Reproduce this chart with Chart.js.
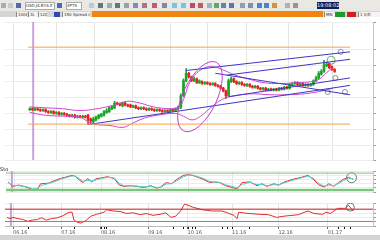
<!DOCTYPE html>
<html>
<head>
<meta charset="utf-8">
<script src="https://cdn.jsdelivr.net/npm/chart.js@4/dist/chart.umd.min.js"></script>
<style>
  body { margin:0; width:380px; height:240px; overflow:hidden; background:#fff; position:relative; font-family:"DejaVu Sans", sans-serif; }
  .abs { position:absolute; }
  #toolbar { left:0; top:0; width:380px; height:11px; background:#e9e8e3; }
  #tabs { left:0; top:11px; width:380px; height:6px; background:#d6d6d6; }
  .ic { position:absolute; top:3px; width:5px; height:5px; opacity:0.85; }
  .tab { position:absolute; top:1px; height:5px; background:#f4f4f4; border-left:1px solid #888; font-size:4px; line-height:5px; color:#333; padding-left:1px; white-space:nowrap; overflow:hidden; }
  canvas { position:absolute; left:0; }
  #bottombar { left:0; top:235px; width:380px; height:5px; background:#d4d4d4; }
  .lbl { position:absolute; font-size:5px; line-height:5px; color:#222; }
</style>
</head>
<body>
<div id="toolbar" class="abs">
  <div class="ic" style="left:1px;background:#9aa3b0"></div>
  <div class="ic" style="left:8px;background:#c4c4c4"></div>
  <div class="ic" style="left:16px;background:#3555a8"></div>
  <div class="abs" style="left:25px;top:2px;width:28px;height:6px;background:#fff;border:1px solid #aaa;font-size:4px;line-height:6px;color:#333;white-space:nowrap;overflow:hidden;">USD.JA.BY.S.E</div>
  <div class="ic" style="left:57px;background:#3050c0"></div>
  <div class="abs" style="left:66px;top:2px;width:14px;height:6px;background:#fff;border:1px solid #aaa;font-size:4px;line-height:6px;color:#333;">4P7S</div>
  <div class="ic" style="left:89px;background:#b0c4d8"></div>
  <div class="ic" style="left:98px;background:#506070"></div>
  <div class="ic" style="left:107px;background:#8fa0b0"></div>
  <div class="ic" style="left:115px;background:#4a6080"></div>
  <div class="ic" style="left:124px;background:#9090a0"></div>
  <div class="ic" style="left:133px;background:#6080c0"></div>
  <div class="ic" style="left:142px;background:#a06070"></div>
  <div class="ic" style="left:152px;background:#c04060"></div>
  <div class="ic" style="left:162px;background:#707890"></div>
  <div class="ic" style="left:172px;background:#60c0e0"></div>
  <div class="ic" style="left:181px;background:#60c0e0"></div>
  <div class="ic" style="left:190px;background:#b03050"></div>
  <div class="ic" style="left:198px;background:#c04040"></div>
  <div class="ic" style="left:207px;background:#90a8c0"></div>
  <div class="ic" style="left:214px;background:#40a050"></div>
  <div class="ic" style="left:221px;background:#5070a0"></div>
  <div class="ic" style="left:229px;background:#4060b0"></div>
  <div class="ic" style="left:240px;background:#8090a0"></div>
  <div class="ic" style="left:248px;background:#7080a0"></div>
  <div class="ic" style="left:257px;background:#3070d0"></div>
  <div class="ic" style="left:264px;background:#3070d0"></div>
  <div class="ic" style="left:272px;background:#d08020"></div>
  <div class="ic" style="left:285px;background:#a0a8b0"></div>
  <div class="ic" style="left:293px;background:#808890"></div>
  <div class="abs" style="left:317px;top:2px;width:22px;height:7px;background:#0f1f5c;color:#fff;font-size:5px;line-height:7px;text-align:center;">19:08:02</div>
</div>
<div id="tabs" class="abs">
  <div class="tab" style="left:16px;width:9px">1006</div>
  <div class="tab" style="left:28px;width:8px">3L</div>
  <div class="tab" style="left:38px;width:7px">120</div>
  <div class="abs" style="left:54px;top:1px;width:6px;height:5px;background:#3048b0"></div>
  <div class="tab" style="left:62px;width:26px">150 Spread mpr</div>
  <div class="abs" style="left:92px;top:0;width:231px;height:6px;background:#f08512"></div>
  <div class="tab" style="left:324px;width:9px">MN</div>
  <div class="abs" style="left:335px;top:1px;width:10px;height:5px;background:#1e9a2a"></div>
  <div class="abs" style="left:347px;top:1px;width:9px;height:5px;background:#d02020"></div>
  <div class="tab" style="left:358px;width:20px">1 X/E</div>
</div>

<canvas id="mainChart" width="380" height="148" style="top:17px"></canvas>
<canvas id="stoChart" width="380" height="33" style="top:165px"></canvas>
<canvas id="oscChart" width="380" height="37" style="top:198px"></canvas>
<div class="lbl" style="left:0;top:167px">Sto</div>
<div id="bottombar" class="abs"></div>

<script>
// ---- data: one candle per index ----
const opens = [89,90,89,90,89,88,89,87,86,87,85,86,84,85,84,83,82,83,81,82,81,82,83,79,76,78,80,82,83,86,
  87,90,91,96,95,93,96,94,94,92,93,91,90,91,90,89,90,89,88,89,88,87,88,87,89,88,90,92,104,120,
  128,124,120,122,118,119,117,118,117,116,117,115,114,112,109,104,119,122,119,117,118,116,115,116,114,113,114,112,111,112,
  110,111,110,111,110,112,111,113,112,116,117,118,116,117,115,116,115,116,120,123,127,130,136,138,135,132];
const closes = [90,89,90,89,88,89,87,86,87,85,86,84,85,84,83,82,83,81,82,81,82,81,78,77,79,81,83,84,87,88,
  91,92,96,95,94,96,94,93,92,93,91,90,91,90,89,90,89,88,89,88,87,88,87,89,88,90,92,104,120,128,
  124,120,122,118,120,117,118,117,116,117,115,114,112,109,104,120,122,119,117,118,116,115,116,114,113,114,112,111,112,110,
  111,110,111,110,112,111,113,112,116,117,118,116,117,115,116,115,116,120,123,128,130,137,138,134,132,130];
const highs = [91,91,91,91,90,90,90,88,88,88,87,87,86,86,85,84,84,84,83,83,83,83,84,80,81,82,84,85,88,90,
  92,93,98,97,96,97,97,95,95,94,94,92,92,92,91,91,91,90,90,90,89,89,89,90,90,91,93,106,122,133,
  129,125,124,123,121,120,119,119,118,118,118,116,115,113,110,122,124,123,120,119,119,117,117,117,115,115,115,113,113,113,
  112,112,112,112,113,113,114,114,117,118,119,119,118,118,117,117,117,121,125,130,132,142,140,139,136,133];
const lows = [88,88,88,88,87,87,86,85,85,84,84,83,83,83,82,81,81,80,80,80,80,80,73,74,75,77,79,81,82,85,
  86,89,90,94,93,92,93,92,91,91,90,89,89,89,88,88,88,87,87,87,86,86,86,86,87,87,89,90,103,119,
  123,119,119,117,117,116,116,116,115,115,114,113,111,108,101,103,118,118,116,116,115,114,114,113,112,112,111,110,110,109,
  109,109,109,109,109,110,110,111,111,115,116,115,115,114,114,114,114,115,119,122,126,129,135,133,131,129];

// bollinger-style envelope [index, value]
const upperBand = [[0,92],[5.9,91],[12.4,90],[18.9,88],[25.4,90],[32.0,94],[36.8,98],[41.7,96],[46.6,92],[53.1,90],
  [56.4,92],[58.0,100],[60.3,118],[62.9,128],[66.1,134],[69.4,135],[72.6,132],[77.5,126],[82.4,122],[88.0,118],
  [94.5,117],[101.0,118],[106.2,119],[109.4,122],[111.7,128],[114.3,134]];
const lowerBand = [[0,86],[5.9,83],[12.4,82],[18.9,81],[22.1,76],[25.4,73],[30.3,72],[35.2,70],[38.4,74],[43.3,80],
  [48.2,83],[54.7,85],[58.0,82],[61.2,78],[64.5,82],[67.8,90],[72.6,100],[77.5,104],[84.0,106],[90.5,105],
  [97.1,105],[103.6,106],[108.4,108],[111.7,110],[114.3,112]];

// drawn trend lines [start, end]
const trendLines = [
  [[59.0,131],[120.8,151]],
  [[74.3,126],[120.8,143]],
  [[70.0,128],[120.8,105]],
  [[75.2,103],[120.8,123]],
  [[22.1,73],[120.8,115]]
];
const hLevels = [156, 73.5];
const markers = [[117.3,151],[115.3,123],[112.4,108],[118.9,108]];
const topMarker = [[113.7,142]];
const ellipseAt = [64.2, 103];

// stochastic panel
const stoK = [[0,48],[1.6,27],[3.6,33],[5.9,24],[8.1,12],[9.8,15],[10.8,39],[13.4,42],[15.6,55],[17.3,64],
  [18.9,70],[21.2,79],[22.1,76],[23.8,55],[24.8,45],[26.4,64],[27.7,48],[29.3,64],[31.0,67],[32.9,73],
  [35.2,64],[36.8,33],[38.4,27],[40.7,30],[42.7,27],[45.0,21],[47.2,30],[49.2,18],[50.5,24],[52.4,45],
  [54.1,39],[55.7,58],[58.0,79],[59.6,82],[61.2,79],[64.5,61],[66.8,45],[68.4,48],[70.0,45],[72.0,30],
  [75.9,15],[77.5,45],[80.1,48],[82.4,30],[84.0,39],[85.7,27],[88.0,39],[89.6,33],[91.5,48],[94.5,61],
  [97.1,70],[99.3,79],[101.0,61],[102.9,33],[104.6,24],[106.2,39],[107.8,27],[109.4,45],[111.1,61],[112.7,70],[114.3,61]];
const stoD = [[0,45],[1.6,32],[3.6,30],[5.9,26],[8.1,16],[9.8,14],[10.8,30],[13.4,40],[15.6,50],[17.3,60],
  [18.9,67],[21.2,76],[22.1,77],[23.8,62],[24.8,50],[26.4,56],[27.7,53],[29.3,58],[31.0,64],[32.9,70],
  [35.2,67],[36.8,42],[38.4,30],[40.7,29],[42.7,28],[45.0,24],[47.2,27],[49.2,22],[50.5,22],[52.4,38],
  [54.1,40],[55.7,52],[58.0,72],[59.6,80],[61.2,80],[64.5,66],[66.8,50],[68.4,47],[70.0,46],[72.0,35],
  [75.9,19],[77.5,36],[80.1,46],[82.4,35],[84.0,36],[85.7,30],[88.0,35],[89.6,34],[91.5,44],[94.5,57],
  [97.1,67],[99.3,76],[101.0,66],[102.9,40],[104.6,28],[106.2,34],[107.8,30],[109.4,40],[111.1,55],[112.7,66],[114.3,63]];
const stoLevels = [90, 10];
const stoMark = [[113.7,68]];

// lower oscillator
const osc = [[0,40],[1.0,34],[2.0,40],[3.6,34],[5.2,30],[6.8,21],[8.5,27],[10.1,30],[11.4,38],[13.0,27],
  [14.7,34],[16.6,38],[18.2,46],[20.5,65],[21.5,65],[22.1,27],[23.1,17],[24.4,12],[26.1,25],[27.7,46],
  [29.6,55],[32.0,65],[32.9,77],[35.2,71],[37.5,68],[39.4,59],[41.7,62],[44.0,53],[45.9,59],[48.2,50],
  [50.5,55],[52.4,62],[54.1,40],[55.7,46],[57.3,71],[58.6,105],[60.3,96],[61.2,90],[64.5,77],[67.8,71],
  [71.0,71],[73.3,59],[74.9,50],[75.9,34],[76.5,65],[78.5,61],[83.1,55],[86.3,53],[89.0,40],[91.5,46],
  [96.1,53],[99.3,71],[101.3,59],[104.2,55],[105.2,65],[106.8,59],[109.1,84],[111.7,84],[112.7,99],[114.3,71]];
const oscHigh = 80, oscLow = 20;
const oscMark = [[113.3,90]];

// time axis
const monthIdx = [2.0, 17.9, 31.0, 46.6, 59.6, 74.3, 89.6, 105.9];
const monthLabels = ['06.16','07.16','08.16','09.16','10.16','11.16','12.16','01.17'];
const eventIdx = [6.8, 22.1, 31.0, 32.0, 32.6, 54.7, 58.0, 59.6, 61.2, 62.2, 71.0, 72.6, 74.3, 79.8, 109.1, 111.1, 113.3];
const markerIdx = 1.3;

const xMin = -0.65, xMax = 120.8;
const pts = arr => arr.map(p => ({ x: p[0], y: p[1] }));

function lineSet(data, color, width, tension) {
  return { type: 'line', data: pts(data), borderColor: color, borderWidth: width, pointRadius: 0, tension: tension || 0, fill: false };
}
function levelSet(v, color, width) {
  return lineSet([[xMin, v], [xMax, v]], color, width);
}
function ringSet(data, radius, color) {
  return { type: 'scatter', data: pts(data), pointRadius: radius, pointBackgroundColor: 'rgba(0,0,0,0)', pointBorderColor: color, pointBorderWidth: 1 };
}
function rightAxis(min, max, step) {
  return {
    position: 'right', min: min, max: max,
    ticks: { display: false, stepSize: step },
    grid: { color: '#ededed', tickLength: 3, tickColor: '#999' },
    border: { color: '#c4c4c4' },
    afterFit: s => { s.width = 7; }
  };
}
function timeAxis(showLabels) {
  return {
    type: 'linear', min: xMin, max: xMax,
    afterBuildTicks: a => { a.ticks = monthIdx.map(v => ({ value: v })); },
    ticks: {
      display: showLabels, autoSkip: false, maxRotation: 0, align: 'start', padding: 1,
      font: { size: 5, family: 'DejaVu Sans' }, color: '#555',
      callback: v => monthLabels[monthIdx.indexOf(v)]
    },
    grid: { color: '#e4e4e4', drawTicks: showLabels, tickLength: 3, tickColor: '#666' },
    border: { display: showLabels, color: '#bbb' },
    afterFit: s => { s.height = showLabels ? 9 : 0; }
  };
}

const markerLine = {
  id: 'markerLine',
  beforeDatasetsDraw(chart) {
    const { ctx, chartArea, scales } = chart;
    const px = scales.x.getPixelForValue(markerIdx);
    ctx.save();
    ctx.strokeStyle = '#c9a2da';
    ctx.lineWidth = 2;
    ctx.beginPath();
    ctx.moveTo(px, chartArea.top);
    ctx.lineTo(px, chartArea.bottom);
    ctx.stroke();
    ctx.restore();
  }
};

const ellipsePlugin = {
  id: 'ellipse',
  afterDatasetsDraw(chart) {
    const { ctx, scales } = chart;
    ctx.save();
    ctx.strokeStyle = '#c23ec6';
    ctx.lineWidth = 1;
    ctx.beginPath();
    ctx.ellipse(scales.x.getPixelForValue(ellipseAt[0]), scales.y.getPixelForValue(ellipseAt[1]), 38, 17, -1.13, 0, Math.PI * 2);
    ctx.stroke();
    ctx.restore();
  }
};

// small event ticks just under the lower panel
const eventTicks = {
  id: 'eventTicks',
  afterDraw(chart) {
    const { ctx, chartArea, scales } = chart;
    ctx.save();
    ctx.fillStyle = '#111';
    eventIdx.forEach(v => {
      const px = Math.round(scales.x.getPixelForValue(v));
      ctx.fillRect(px, chartArea.bottom + 1, 1, 2);
    });
    ctx.restore();
  }
};

const baseOptions = (scales) => ({
  responsive: false, animation: false,
  layout: { padding: 0 },
  plugins: { legend: { display: false }, tooltip: { enabled: false } },
  scales: scales
});

// ---- main price chart ----
const upColor = '#1aa524', downColor = '#e42222';
const candleColors = closes.map((c, i) => c >= opens[i] ? upColor : downColor);

new Chart(document.getElementById('mainChart'), {
  type: 'bar',
  data: {
    datasets: [
      levelSet(hLevels[0], '#f4a24a', 1),
      levelSet(hLevels[1], '#f4a24a', 1),
      ...trendLines.map(l => lineSet(l, '#3b36c8', 1)),
      lineSet(upperBand, '#cf45cf', 1, 0.4),
      lineSet(lowerBand, '#cf45cf', 1, 0.4),
      { type: 'bar', data: closes.map((c, i) => ({ x: i, y: [lows[i], highs[i]] })), backgroundColor: candleColors, barThickness: 1, grouped: false },
      { type: 'bar', data: closes.map((c, i) => ({ x: i, y: [opens[i], c === opens[i] ? c + 0.6 : c] })), backgroundColor: candleColors, barThickness: 2, grouped: false },
      { type: 'scatter', data: pts(markers), pointRadius: 2.5, pointBackgroundColor: '#fff', pointBorderColor: '#8c8ca6', pointBorderWidth: 1 },
      ringSet(topMarker, 4, '#6fa86f')
    ]
  },
  options: baseOptions({ x: timeAxis(false), y: rightAxis(35, 183, 17) }),
  plugins: [markerLine, ellipsePlugin]
});

// ---- stochastic ----
new Chart(document.getElementById('stoChart'), {
  type: 'line',
  data: {
    datasets: [
      levelSet(stoLevels[0], '#7cc57c', 1),
      levelSet(stoLevels[1], '#7cc57c', 2.5),
      lineSet(stoD, '#48d6d6', 1),
      lineSet(stoK, '#e53030', 1),
      ringSet(stoMark, 5, '#777')
    ]
  },
  options: baseOptions({ x: timeAxis(false), y: rightAxis(0, 100, 20) }),
  plugins: [markerLine]
});

// ---- lower oscillator ----
new Chart(document.getElementById('oscChart'), {
  type: 'line',
  data: {
    datasets: [
      levelSet(oscHigh, '#c82020', 1),
      levelSet(oscLow, '#45b045', 1),
      lineSet(osc, '#e52a2a', 1),
      ringSet(oscMark, 4, '#777')
    ]
  },
  options: baseOptions({ x: timeAxis(true), y: rightAxis(-2, 110, 20) }),
  plugins: [markerLine, eventTicks]
});
</script>
</body>
</html>
